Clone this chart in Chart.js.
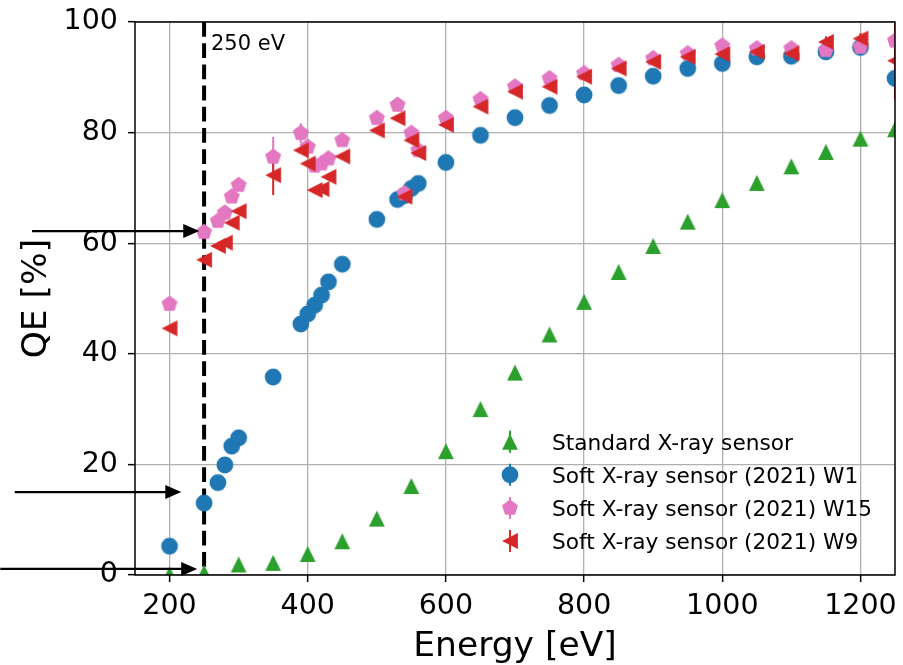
<!DOCTYPE html>
<html>
<head>
<meta charset="utf-8">
<title>QE vs Energy</title>
<script src="https://cdn.jsdelivr.net/npm/chart.js@4.4.1/dist/chart.umd.min.js"></script>
<style>
    html, body { margin: 0; padding: 0; background: #fff; }
    #wrap { width: 903px; height: 665px; }
</style>
</head>
<body>
<div id="wrap"><canvas id="qeChart" width="903" height="665"></canvas></div>
<script>
// Energies (eV) and QE (%)
const stdEnergy = [200, 250, 300, 350, 400, 450, 500, 550, 600, 650, 700, 750, 800, 850, 900, 950, 1000, 1050, 1100, 1150, 1200, 1250];
const stdQE = [0.1, 0.4, 1.9, 2.2, 3.8, 6.1, 10.2, 16.1, 22.4, 30.0, 36.6, 43.5, 49.4, 54.8, 59.5, 63.9, 67.8, 70.9, 73.9, 76.5, 78.9, 80.6];

const softEnergy = [200, 250, 270, 280, 290, 300, 350, 390, 400, 410, 420, 430, 450, 500, 530, 540, 550, 560, 600, 650, 700, 750, 800, 850, 900, 950, 1000, 1050, 1100, 1150, 1200, 1250];
const w1QE = [5.2, 13.0, 16.7, 19.9, 23.3, 24.8, 35.8, 45.4, 47.2, 48.8, 50.6, 53.0, 56.2, 64.3, 67.9, 68.6, 69.9, 70.8, 74.6, 79.5, 82.7, 84.9, 86.8, 88.5, 90.2, 91.6, 92.5, 93.7, 93.8, 94.6, 95.4, 89.8];
const w15QE = [49.0, 62.0, 64.0, 65.5, 68.4, 70.5, 75.6, 79.9, 77.4, 74.0, 74.4, 75.3, 78.6, 82.6, 85.0, 69.0, 79.9, 76.8, 82.6, 86.0, 88.3, 89.8, 90.7, 92.2, 93.4, 94.3, 95.7, 95.2, 95.2, 94.9, 95.5, 96.6];
const w9QE = [44.6, 57.0, 59.5, 60.1, 63.7, 65.8, 72.3, 76.8, 74.4, 69.6, 69.8, 72.0, 75.7, 80.4, 82.6, 68.4, 78.6, 76.3, 81.4, 84.7, 87.4, 88.3, 90.1, 91.6, 92.8, 93.7, 94.2, 94.6, 94.3, 96.4, 97.0, 93.0];

// error bars (same order as softEnergy)
const w1Err = [0, 0, 0, 0, 0, 0, 1.2, 0, 0, 0, 0, 0, 0, 0, 0, 0, 0, 0, 0, 0, 0, 0, 0, 0, 0, 0, 0, 0, 0, 0, 0, 0];
const w15Err = [0, 0, 0, 0, 0, 0, 3.6, 1.8, 0, 0, 0, 0, 0, 0, 0, 0, 0, 0, 0, 0, 0, 0, 0, 0, 0, 0, 0, 0, 0, 0, 0, 0];
const w9Err = [0, 0, 0, 0, 0, 0, 3.6, 0, 0, 0, 0, 0, 0, 0, 0, 0, 0, 0, 0, 0, 0, 0, 0, 0, 0, 0, 0, 0, 0, 1.0, 1.0, 7.0];

const xTickValues = [200, 400, 600, 800, 1000, 1200];
const yTickValues = [0, 20, 40, 60, 80, 100];

const cutoffEnergy = 250;
const arrowLevels = [62.2, 15.0, 1.1];
const arrowStarts = [1, -24, -45];
const arrowTips = [243, 217, 240];

(function() {
    'use strict';

    const FONT = "'DejaVu Sans', sans-serif";
    const GREEN = '#2ca02c';
    const BLUE = '#1f77b4';
    const PINK = '#e377c2';
    const RED = '#d62728';

    // small canvases used as point styles (matplotlib-like markers)
    function makeMarker(color, path) {
        const c = document.createElement('canvas');
        c.width = 20;
        c.height = 20;
        const g = c.getContext('2d');
        g.translate(10, 10);
        g.fillStyle = color;
        g.beginPath();
        path(g);
        g.closePath();
        g.fill();
        return c;
    }

    const h = 7.9;
    const triUp = makeMarker(GREEN, g => {
        g.moveTo(0, -h); g.lineTo(-h, h); g.lineTo(h, h);
    });
    const triLeft = makeMarker(RED, g => {
        g.moveTo(-h, 0); g.lineTo(h, -h); g.lineTo(h, h);
    });
    const pentagon = makeMarker(PINK, g => {
        const R = 8.4;
        for (let k = 0; k < 5; k++) {
            const a = -Math.PI / 2 + k * 2 * Math.PI / 5;
            const px = R * Math.cos(a), py = R * Math.sin(a);
            if (k === 0) g.moveTo(px, py); else g.lineTo(px, py);
        }
    });
    const circle = makeMarker(BLUE, g => { g.arc(0, 0, 8.4, 0, Math.PI * 2); });

    const toPoints = (xs, ys) => xs.map((x, i) => ({ x: x, y: ys[i] }));

    const series = [
        { label: 'Standard X-ray sensor', color: GREEN, marker: triUp, xs: stdEnergy, ys: stdQE, err: null },
        { label: 'Soft X-ray sensor (2021) W1', color: BLUE, marker: circle, xs: softEnergy, ys: w1QE, err: w1Err },
        { label: 'Soft X-ray sensor (2021) W15', color: PINK, marker: pentagon, xs: softEnergy, ys: w15QE, err: w15Err },
        { label: 'Soft X-ray sensor (2021) W9', color: RED, marker: triLeft, xs: softEnergy, ys: w9QE, err: w9Err }
    ];

    const datasets = series.map((s, i) => ({
        label: s.label,
        data: toPoints(s.xs, s.ys),
        pointStyle: s.marker,
        pointRadius: 8,
        backgroundColor: s.color,
        borderWidth: 0,
        order: series.length - 1 - i,
        clip: 0
    }));

    // dashed cutoff line + error bars, under the markers
    const underlay = {
        id: 'underlay',
        beforeDatasetsDraw(chart) {
            const { ctx, chartArea: a, scales: { x, y } } = chart;
            ctx.save();
            ctx.beginPath();
            ctx.rect(a.left, a.top, a.right - a.left, a.bottom - a.top);
            ctx.clip();

            ctx.strokeStyle = '#000';
            ctx.lineWidth = 4;
            ctx.setLineDash([14.8, 6.4]);
            ctx.beginPath();
            ctx.moveTo(x.getPixelForValue(cutoffEnergy), y.getPixelForValue(100));
            ctx.lineTo(x.getPixelForValue(cutoffEnergy), y.getPixelForValue(0));
            ctx.stroke();
            ctx.setLineDash([]);

            ctx.lineWidth = 2;
            series.forEach(s => {
                if (!s.err) return;
                ctx.strokeStyle = s.color;
                s.xs.forEach((e, i) => {
                    const d = s.err[i];
                    if (!d) return;
                    const px = x.getPixelForValue(e);
                    ctx.beginPath();
                    ctx.moveTo(px, y.getPixelForValue(s.ys[i] - d));
                    ctx.lineTo(px, y.getPixelForValue(s.ys[i] + d));
                    ctx.stroke();
                });
            });
            ctx.restore();
        }
    };

    // frame, titles, text, arrows and legend on top
    const overlay = {
        id: 'overlay',
        afterDraw(chart) {
            const { ctx, chartArea: a, scales: { x, y } } = chart;
            ctx.save();

            ctx.strokeStyle = '#000';
            ctx.lineWidth = 1.5;
            ctx.strokeRect(a.left, a.top, a.right - a.left, a.bottom - a.top);

            ctx.fillStyle = '#000';
            ctx.font = '21px ' + FONT;
            ctx.textAlign = 'left';
            ctx.textBaseline = 'alphabetic';
            ctx.fillText('250 eV', x.getPixelForValue(260), y.getPixelForValue(95));

            // axis titles
            ctx.font = '34.5px ' + FONT;
            ctx.textAlign = 'center';
            ctx.fillText('Energy [eV]', (a.left + a.right) / 2, 656);
            ctx.save();
            ctx.translate(46, (a.top + a.bottom) / 2);
            ctx.rotate(-Math.PI / 2);
            ctx.fillText('QE [%]', 0, 0);
            ctx.restore();

            // arrows pointing at the 250 eV values
            ctx.lineWidth = 2.2;
            arrowLevels.forEach((lvl, i) => {
                const py = y.getPixelForValue(lvl);
                const x0 = x.getPixelForValue(arrowStarts[i]);
                const x1 = x.getPixelForValue(arrowTips[i]);
                ctx.beginPath();
                ctx.moveTo(x0, py);
                ctx.lineTo(x1 - 14, py);
                ctx.stroke();
                ctx.beginPath();
                ctx.moveTo(x1, py);
                ctx.lineTo(x1 - 16, py - 7);
                ctx.lineTo(x1 - 16, py + 7);
                ctx.closePath();
                ctx.fill();
            });

            // legend (no frame)
            ctx.font = '21.7px ' + FONT;
            ctx.textAlign = 'left';
            series.forEach((s, i) => {
                const cy = 441.7 + i * 33.1;
                ctx.strokeStyle = s.color;
                ctx.lineWidth = 2;
                ctx.beginPath();
                ctx.moveTo(510, cy - 11);
                ctx.lineTo(510, cy + 11);
                ctx.stroke();
                ctx.drawImage(s.marker, 500, cy - 10);
                ctx.fillStyle = '#000';
                ctx.fillText(s.label, 552, cy + 7.8);
            });

            ctx.restore();
        }
    };

    const tickFont = { family: FONT, size: 28.5 };
    const plainTick = v => String(v);

    const config = {
        type: 'scatter',
        data: { datasets: datasets },
        options: {
            responsive: false,
            animation: false,
            events: [],
            layout: { padding: { top: 22, right: 5.3, left: 0, bottom: 0 } },
            plugins: {
                legend: { display: false },
                tooltip: { enabled: false }
            },
            scales: {
                x: {
                    type: 'linear',
                    min: 150,
                    max: 1250,
                    afterBuildTicks: s => { s.ticks = xTickValues.map(v => ({ value: v })); },
                    afterFit: s => { s.height = 90; s.paddingLeft = 0; s.paddingRight = 0; },
                    grid: { color: '#b0b0b0', lineWidth: 1.3, tickColor: '#000', tickLength: 7, tickWidth: 1.5 },
                    border: { display: false },
                    ticks: { font: tickFont, color: '#000', padding: 7, maxRotation: 0, callback: plainTick }
                },
                y: {
                    type: 'linear',
                    min: 0,
                    max: 100,
                    afterBuildTicks: s => { s.ticks = yTickValues.map(v => ({ value: v })); },
                    afterFit: s => { s.width = 135; s.paddingTop = 0; s.paddingBottom = 0; },
                    grid: { color: '#b0b0b0', lineWidth: 1.3, tickColor: '#000', tickLength: 7, tickWidth: 1.5 },
                    border: { display: false },
                    ticks: { font: tickFont, color: '#000', padding: 10, callback: plainTick }
                }
            }
        },
        plugins: [underlay, overlay]
    };

    try {
        new Chart(document.getElementById('qeChart'), config);
    } catch (error) {
        console.error('Error initializing chart:', error);
    }
})();
</script>
</body>
</html>
